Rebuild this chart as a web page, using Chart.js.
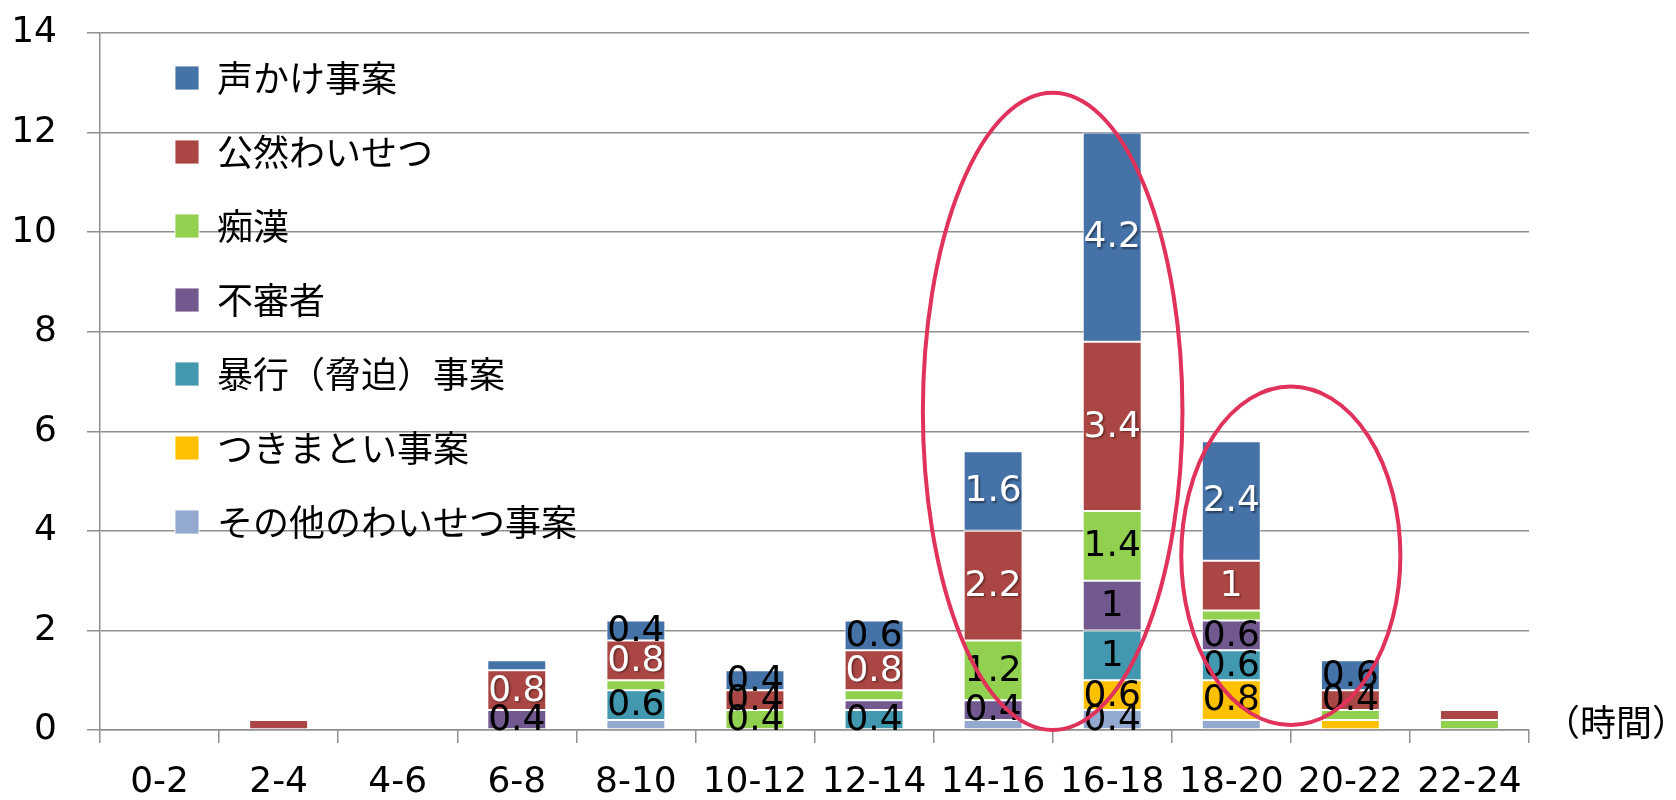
<!DOCTYPE html>
<html>
<head>
<meta charset="utf-8">
<script src="https://cdn.jsdelivr.net/npm/chart.js@4.4.1/dist/chart.umd.min.js"></script>
<style>
  html, body { margin: 0; padding: 0; background: #ffffff; }
  #wrap { width: 1676px; height: 800px; position: relative; }
</style>
</head>
<body>
<div id="wrap"><canvas id="chart"></canvas></div>
<script>
// ---- data ----
const categories = ['0-2','2-4','4-6','6-8','8-10','10-12','12-14','14-16','16-18','18-20','20-22','22-24'];
const seriesNames = ['その他のわいせつ事案','つきまとい事案','暴行（脅迫）事案','不審者','痴漢','公然わいせつ','声かけ事案'];
const otherIndecency = [0, 0,   0, 0,   0.2, 0,   0,   0.2, 0.4, 0.2, 0,   0];
const stalking       = [0, 0,   0, 0,   0,   0,   0,   0,   0.6, 0.8, 0.2, 0];
const assault        = [0, 0,   0, 0,   0.6, 0,   0.4, 0,   1,   0.6, 0,   0];
const suspicious     = [0, 0,   0, 0.4, 0,   0,   0.2, 0.4, 1,   0.6, 0,   0];
const groping        = [0, 0,   0, 0,   0.2, 0.4, 0.2, 1.2, 1.4, 0.2, 0.2, 0.2];
const exposure       = [0, 0.2, 0, 0.8, 0.8, 0.4, 0.8, 2.2, 3.4, 1,   0.4, 0.2];
const callingOut     = [0, 0,   0, 0.2, 0.4, 0.4, 0.6, 1.6, 4.2, 2.4, 0.6, 0];
const yTicks = [0, 2, 4, 6, 8, 10, 12, 14];
const unitLabel = '（時間）';
// highlighted ranges (red ellipses), in category / value units
const highlights = [
  { from: '14-16', to: '16-18', pad: 0.59, top: 12.8, bottom: 0 },
  { from: '18-20', to: '20-22', pad: 0.42, top: 6.9,  bottom: 0.1 }
];

// ---- styles ----
const seriesValues = [otherIndecency, stalking, assault, suspicious, groping, exposure, callingOut];
const seriesColors = ['#93A9CF', '#FFC000', '#4198AF', '#71588F', '#92D050', '#AA4643', '#4572A7'];
const whiteLabelSeries = ['公然わいせつ', '声かけ事案'];
const LATIN = "'DejaVu Sans', 'Noto Sans CJK JP', sans-serif";
const CJK = "'Noto Sans CJK JP', 'DejaVu Sans', sans-serif";
const GRID = '#8f8f8f';

const datasets = seriesNames.map((name, i) => ({
  label: name,
  data: seriesValues[i],
  backgroundColor: seriesColors[i],
  borderColor: 'rgba(255,255,255,0.85)',
  borderWidth: 1,
  borderSkipped: false,
  categoryPercentage: 1.0,
  barPercentage: 0.495
}));

const legendPlace = {
  id: 'legendPlace',
  afterLayout(chart) {
    const lg = chart.legend;
    if (!lg) return;
    lg.left = chart.chartArea.left + 37;
    lg.top = chart.chartArea.top - 11;
  }
};

const segmentLabels = {
  id: 'segmentLabels',
  afterDatasetsDraw(chart) {
    const ctx = chart.ctx;
    ctx.save();
    ctx.font = '36px ' + LATIN;
    ctx.textAlign = 'center';
    ctx.textBaseline = 'middle';
    chart.data.datasets.forEach((ds, di) => {
      const meta = chart.getDatasetMeta(di);
      if (meta.hidden) return;
      meta.data.forEach((bar, i) => {
        const v = ds.data[i];
        if (!(v >= 0.4)) return;
        const c = bar.getCenterPoint();
        const white = whiteLabelSeries.includes(ds.label) && v >= 0.8;
        ctx.save();
        if (white) {
          ctx.shadowColor = 'rgba(0,0,0,0.45)';
          ctx.shadowOffsetX = 1.5;
          ctx.shadowOffsetY = 1.5;
          ctx.shadowBlur = 2;
          ctx.fillStyle = '#ffffff';
        } else {
          ctx.fillStyle = '#000000';
        }
        ctx.fillText(String(v), c.x, c.y + 1);
        ctx.restore();
      });
    });
    ctx.restore();
  }
};

const ellipses = {
  id: 'ellipses',
  afterDraw(chart) {
    const ctx = chart.ctx;
    const xs = chart.scales.x, ys = chart.scales.y;
    const cw = xs.getPixelForValue(1) - xs.getPixelForValue(0);
    ctx.save();
    ctx.strokeStyle = '#E0325A';
    ctx.lineWidth = 4;
    highlights.forEach(h => {
      const left = xs.getPixelForValue(categories.indexOf(h.from)) - h.pad * cw;
      const right = xs.getPixelForValue(categories.indexOf(h.to)) + h.pad * cw;
      const top = ys.getPixelForValue(h.top);
      const bottom = ys.getPixelForValue(h.bottom);
      ctx.beginPath();
      ctx.ellipse((left + right) / 2, (top + bottom) / 2, (right - left) / 2, (bottom - top) / 2, 0, 0, Math.PI * 2);
      ctx.stroke();
    });
    // unit label at the right end of the category axis
    ctx.font = '36px ' + CJK;
    ctx.fillStyle = '#000';
    ctx.textAlign = 'left';
    ctx.textBaseline = 'middle';
    ctx.fillText(unitLabel, chart.chartArea.right + 15, ys.getPixelForValue(0) - 8);
    ctx.restore();
  }
};

new Chart(document.getElementById('chart'), {
  type: 'bar',
  data: { labels: categories, datasets: datasets },
  options: {
    responsive: true,
    maintainAspectRatio: false,
    animation: false,
    layout: { padding: { top: 33, right: 147, left: 0, bottom: 0 } },
    plugins: {
      tooltip: { enabled: false },
      legend: {
        position: 'chartArea',
        align: 'start',
        reverse: true,
        labels: {
          color: '#000',
          font: { size: 36, family: CJK },
          boxWidth: 24,
          boxHeight: 24,
          padding: 38
        }
      }
    },
    scales: {
      x: {
        stacked: true,
        grid: { offset: true, drawOnChartArea: false, drawTicks: true, tickLength: 13, color: GRID, lineWidth: 1.5 },
        border: { color: GRID, width: 1.5 },
        ticks: { color: '#000', font: { size: 36, family: LATIN }, padding: 18, maxRotation: 0, autoSkip: false },
        afterFit(s) { s.height = 70; }
      },
      y: {
        stacked: true,
        min: 0,
        max: 14,
        grid: { color: GRID, lineWidth: 1.5, drawTicks: true, tickLength: 13 },
        border: { color: GRID, width: 1.5 },
        ticks: { color: '#000', font: { size: 36, family: LATIN }, padding: 30 },
        afterBuildTicks(s) { s.ticks = yTicks.map(v => ({ value: v })); },
        afterFit(s) { s.width = 100; s.paddingTop = 0; s.paddingBottom = 0; }
      }
    }
  },
  plugins: [legendPlace, segmentLabels, ellipses]
});
</script>
</body>
</html>
